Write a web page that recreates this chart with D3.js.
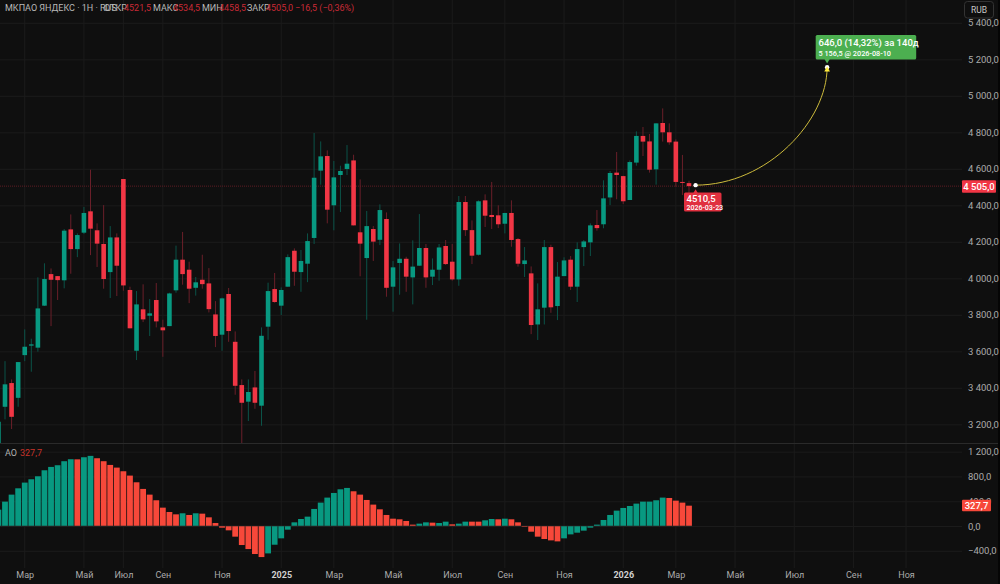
<!DOCTYPE html>
<html><head><meta charset="utf-8">
<script src="https://cdn.jsdelivr.net/npm/d3@7/dist/d3.min.js"></script>
<style>html,body{margin:0;background:#0f0f0f;overflow:hidden}svg{display:block}text{font-family:Roboto,"Liberation Sans",sans-serif}</style>
</head><body><div id="c"></div>
<script>
// candle data: first entry sits at index -1 (cut by the left edge)
const firstIndex=-1;
const opens=[3097,3296,3426,3345,3579,3631,3620,3850,4023,4012,3989,4268,4160,4250,4367,4263,4188,4034,4224,4544,3936,3603,3830,3795,3881,3731,3738,3934,4102,4047,3948,3992,3972,3802,3691,3914,3652,3415,3324,3402,3302,3735,3941,3850,3954,4151,4034,4080,4221,4590,4670,4400,4566,4599,4646,4252,4111,4270,4211,4325,3954,4084,4107,4005,4069,4166,4009,4047,4177,4091,3994,4418,4264,4129,4427,4347,4345,4299,4358,4215,4078,4027,3747,3839,4171,3848,4012,4102,3954,4171,4197,4292,4296,4443,4579,4560,4429,4634,4780,4750,4597,4851,4800,4749,4528,4521.5];
const highs=[3214,3546,3446,3541,3720,3669,4005,4082,4054,4012,4270,4350,4246,4391,4595,4301,4401,4286,4246,4544,3954,3930,3967,3886,3974,3773,3921,4179,4254,4091,4007,4129,4056,3875,3894,3947,3709,3446,3446,3492,3731,3976,4029,3950,4131,4164,4155,4246,4796,4750,4701,4643,4617,4730,4677,4542,4369,4286,4405,4361,4095,4191,4118,4208,4352,4188,4109,4188,4210,4188,4451,4451,4317,4427,4460,4528,4400,4359,4427,4221,4171,4065,3972,4210,4184,4089,4115,4122,4197,4210,4301,4374,4537,4588,4692,4562,4646,4805,4829,4791,4849,4931,4849,4761,4676,4534.5];
const lows=[3097,3227,3174,3296,3546,3488,3598,3848,3738,3881,3945,4025,4116,4243,4127,4062,3943,3892,3903,3932,3726,3552,3760,3684,3731,3570,3738,3921,3965,3864,3905,3943,3813,3623,3603,3652,3362,3088,3218,3285,3192,3663,3866,3799,3954,3959,3926,3979,4188,4513,4301,4263,4363,4566,4290,4011,3773,4095,4182,3899,3817,3910,3926,3857,4069,3948,3963,3987,4073,3987,3959,4232,4078,4125,4281,4270,4275,4246,4173,4064,4007,3694,3662,3747,3811,3771,4012,3936,3870,4067,4122,4261,4274,4401,4433,4407,4429,4617,4670,4579,4513,4749,4732,4502,4456,4458.5];
const closes=[3214,3419,3241,3541,3625,3638,3835,3996,3992,3990,4261,4160,4237,4358,4272,4190,3996,4224,4069,3961,3726,3857,3775,3808,3764,3715,3917,4102,4023,3943,3978,3968,3831,3684,3890,3711,3411,3318,3377,3318,3685,3930,3870,3936,4116,4036,4095,4204,4551,4668,4376,4553,4588,4628,4290,4190,4286,4201,4374,3948,4060,4107,4009,4064,4166,4005,4047,4169,4078,3994,4418,4264,4124,4422,4343,4336,4296,4358,4210,4080,4098,3744,3830,4171,3841,4009,4098,3954,4160,4202,4290,4275,4438,4577,4566,4422,4637,4780,4749,4595,4849,4800,4745,4528,4524,4505];
// Awesome Oscillator, same indices
const aoValues=[264,393,506,608,700,754,802,899,953,980,1045,1077,1075,1109,1131,1093,1045,985,942,883,813,705,598,506,415,296,226,188,205,178,205,199,140,48,-27,-70,-172,-307,-372,-452,-501,-442,-302,-199,-59,59,113,151,275,377,458,533,592,614,560,506,420,345,269,178,118,108,81,22,38,59,54,48,70,27,38,70,70,70,92,113,108,118,108,59,-11,-92,-172,-210,-232,-248,-199,-135,-108,-75,-27,22,97,178,248,291,323,361,393,393,415,458,452,409,377,327.7];
const aoRising=[1,1,1,1,1,1,1,1,1,1,1,1,0,1,1,0,0,0,0,0,0,0,0,0,0,0,0,0,1,0,1,0,0,0,0,0,0,0,0,0,0,1,1,1,1,1,1,1,1,1,1,1,1,1,0,0,0,0,0,0,0,0,0,0,1,1,0,1,1,0,1,1,0,0,1,1,0,1,0,0,0,0,0,0,0,0,1,1,1,1,1,1,1,1,1,1,1,1,1,1,1,1,0,0,0,0];
// axes
const priceTicks=[5400,5200,5000,4800,4600,4400,4200,4000,3800,3600,3400,3200];
const aoTicks=[1200,800,400,0,-400];
const monthIndex=[3,12,18,24,33,42,50,59,68,76,85,94,102,111,120,129,137];
const monthLabels=["Мар","Май","Июл","Сен","Ноя","2025","Мар","Май","Июл","Сен","Ноя","2026","Мар","Май","Июл","Сен","Ноя"];
// header and annotation
const headerLabels=["ОТКР","МАКС","МИН","ЗАКР"];
const headerValues=["4521,5","4534,5","4458,5","4505,0"];
const lastPrice=4505, lastAO=327.7;
const projFrom={index:105,price:4510.5,label:"4510,5",date:"2026-03-23"};
const projTo={index:125,price:5156.5,line1:"646,0 (14,32%) за 140д",line2:"5 156,5 @ 2026-08-10"};

const W=1000,H=584,BG="#0f0f0f",GRID="#1b1b1b",UP="#089981",DOWN="#f23645",UPW="#0b5348",DOWNW="#6a1f29",AXT="#ababab";
const AOUP="#089981",AODN="#f7483a";
const loc=d3.formatLocale({decimal:",",thousals:" ",thousands:" ",grouping:[3],currency:["",""],minus:"−"});
const fmt=loc.format(",.1f");
const x=d3.scaleLinear().domain([0,104]).range([5,689]);
const y=d3.scaleLinear().domain([3200,4800]).range([424.3,132.3]);
const ya=d3.scaleLinear().domain([-400,1200]).range([550.8,451.6]);
const svg=d3.select("#c").append("svg").attr("width",W).attr("height",H);
svg.append("rect").attr("width",W).attr("height",H).attr("fill",BG);
const defs=svg.append("defs");
defs.append("clipPath").attr("id","mainClip").append("rect").attr("width",962).attr("height",443);
defs.append("clipPath").attr("id","aoClip").append("rect").attr("y",444).attr("width",962).attr("height",124);

// grids
svg.append("g").selectAll("line").data(priceTicks).join("line").attr("x1",0).attr("x2",962).attr("y1",d=>y(d)+.5).attr("y2",d=>y(d)+.5).attr("stroke",GRID);
svg.append("g").selectAll("line").data(aoTicks).join("line").attr("x1",0).attr("x2",962).attr("y1",d=>ya(d)+.5).attr("y2",d=>ya(d)+.5).attr("stroke",GRID);
svg.append("g").selectAll("line").data(monthIndex).join("line").attr("x1",d=>x(d)).attr("x2",d=>x(d)).attr("y1",0).attr("y2",568).attr("stroke",GRID);
svg.append("line").attr("x1",0).attr("x2",998).attr("y1",443.5).attr("y2",443.5).attr("stroke","#2a2a2a");
svg.append("rect").attr("x",998).attr("width",2).attr("height",H).attr("fill","#050505");

// price line
svg.append("line").attr("x1",0).attr("x2",962).attr("y1",y(lastPrice)).attr("y2",y(lastPrice)).attr("stroke","#5e1c24").attr("stroke-dasharray","1 1");

// candles
const candles=opens.map((o,i)=>({i:i+firstIndex,o,h:highs[i],l:lows[i],c:closes[i]}));
const cg=svg.append("g").attr("clip-path","url(#mainClip)");
const isUp=d=>d.c>=d.o;
cg.selectAll(".w").data(candles).join("line").attr("x1",d=>x(d.i)).attr("x2",d=>x(d.i)).attr("y1",d=>y(d.h)).attr("y2",d=>y(d.l)).attr("stroke",d=>isUp(d)?UPW:DOWNW).attr("stroke-width",1);
cg.selectAll(".b").data(candles).join("rect").attr("x",d=>x(d.i)-2.3).attr("width",4.6)
  .attr("y",d=>y(Math.max(d.o,d.c))).attr("height",d=>Math.max(1,Math.abs(y(d.o)-y(d.c))))
  .attr("fill",d=>isUp(d)?UP:DOWN);

// AO
const ao=aoValues.map((v,i)=>({i:i+firstIndex,v,r:aoRising[i]}));
svg.append("g").attr("clip-path","url(#aoClip)").selectAll("rect").data(ao).join("rect")
  .attr("x",d=>x(d.i)-2.9).attr("width",5.8)
  .attr("y",d=>Math.min(ya(d.v),ya(0))).attr("height",d=>Math.abs(ya(d.v)-ya(0)))
  .attr("fill",d=>d.r?AOUP:AODN);
svg.append("line").attr("x1",0).attr("x2",x(104)+3).attr("y1",ya(0)).attr("y2",ya(0)).attr("stroke","#2b2b2b").attr("stroke-width",.6);

// axes
function style(g,size){g.select(".domain").remove();g.selectAll(".tick line").remove();g.selectAll("text").attr("fill",AXT).attr("font-size",size);}
svg.append("g").attr("transform","translate(968,0)").call(d3.axisRight(y).tickValues(priceTicks).tickSize(0).tickPadding(0).tickFormat(fmt)).call(style,9.5);
svg.append("g").attr("transform","translate(968,0)").call(d3.axisRight(ya).tickValues(aoTicks).tickSize(0).tickPadding(0).tickFormat(fmt)).call(style,9.5);
const xa=svg.append("g").attr("transform","translate(0,570)").call(d3.axisBottom(x).tickValues(monthIndex).tickSize(0).tickPadding(2).tickFormat((d,i)=>monthLabels[i])).call(style,9);
xa.selectAll("text").filter(function(){return /^\d/.test(this.textContent)}).attr("font-weight",700).attr("fill","#d0d0d0");

// RUB button
svg.append("rect").attr("x",964.5).attr("y",1.5).attr("width",29).attr("height",16.5).attr("rx",3).attr("fill",BG).attr("stroke","#333");
svg.append("text").attr("x",979).attr("y",13).attr("text-anchor","middle").attr("font-size",8.5).attr("fill","#c8c8c8").text("RUB");

// header
const T=(xp,yp,s,fill,size,w)=>svg.append("text").attr("x",xp).attr("y",yp).attr("font-size",size||9).attr("font-weight",w||400).attr("fill",fill).text(s);
T(5,11,"МКПАО ЯНДЕКС · 1Н · RUS","#b8b8b8");
const hx=[104,153,202,247],vx=[124,173,219,266];
headerLabels.forEach((s,i)=>{T(hx[i],11,s,"#b8b8b8");T(vx[i],11,headerValues[i],"#c92a36");});
T(295,11,"−16,5 (−0,36%)","#c92a36");
T(5,456,"AO","#b0b0b0");T(20,456,"327,7","#c9332a");

// last price tags
svg.append("rect").attr("x",962).attr("y",y(lastPrice)-6).attr("width",34).attr("height",12.5).attr("rx",1).attr("fill",DOWN);
svg.append("text").attr("x",979).attr("y",y(lastPrice)+3.5).attr("text-anchor","middle").attr("font-size",9.5).attr("font-weight",500).attr("fill","#fff").text(fmt(lastPrice));
svg.append("rect").attr("x",962).attr("y",ya(lastAO)-6).attr("width",29).attr("height",11.5).attr("rx",1).attr("fill",AODN);
svg.append("text").attr("x",976.5).attr("y",ya(lastAO)+3.3).attr("text-anchor","middle").attr("font-size",9.5).attr("font-weight",500).attr("fill","#fff").text("327,7");

// projection curve (quarter ellipse between the two points)
const x0=x(projFrom.index),y0=y(projFrom.price),x1=x(projTo.index),y1=y(projTo.price),k=.5523;
const p=d3.path();p.moveTo(x0,y0);p.bezierCurveTo(x0+k*(x1-x0),y0,x1,y0+k*(y1-y0),x1,y1);
svg.append("path").attr("d",p.toString()).attr("fill","none").attr("stroke","#cdbb3c").attr("stroke-width",1);
svg.append("circle").attr("cx",x0).attr("cy",y0).attr("r",2.2).attr("fill","#fff");
svg.append("circle").attr("cx",x1).attr("cy",y1).attr("r",2.2).attr("fill","#fff");
svg.append("path").attr("d",d3.symbol(d3.symbolTriangle,14)()).attr("transform",`translate(${x1},${y1+2.5})`).attr("fill","#ffeb3b");

// tag below start
svg.append("path").attr("d",d3.symbol(d3.symbolTriangle,18)()).attr("transform",`translate(${x0},${193})`).attr("fill","#e0303f");
svg.append("rect").attr("x",684).attr("y",192.5).attr("width",37.5).attr("height",19).attr("rx",1.5).attr("fill","#e0303f");
T(686.5,202,projFrom.label,"#fff",9.5,500);
T(686.5,209.5,projFrom.date,"#fff",7,500);

// target tag
svg.append("path").attr("d",d3.symbol(d3.symbolTriangle,18)()).attr("transform",`translate(${x1},${y1-7.5}) rotate(180)`).attr("fill","#4caf50");
svg.append("rect").attr("x",815.7).attr("y",35).attr("width",100.5).attr("height",24.5).attr("rx",1.5).attr("fill","#4caf50");
T(818.5,46,projTo.line1,"#fff",9.5,500);
T(818.5,55.5,projTo.line2,"#fff",7.3,500);
</script></body></html>
